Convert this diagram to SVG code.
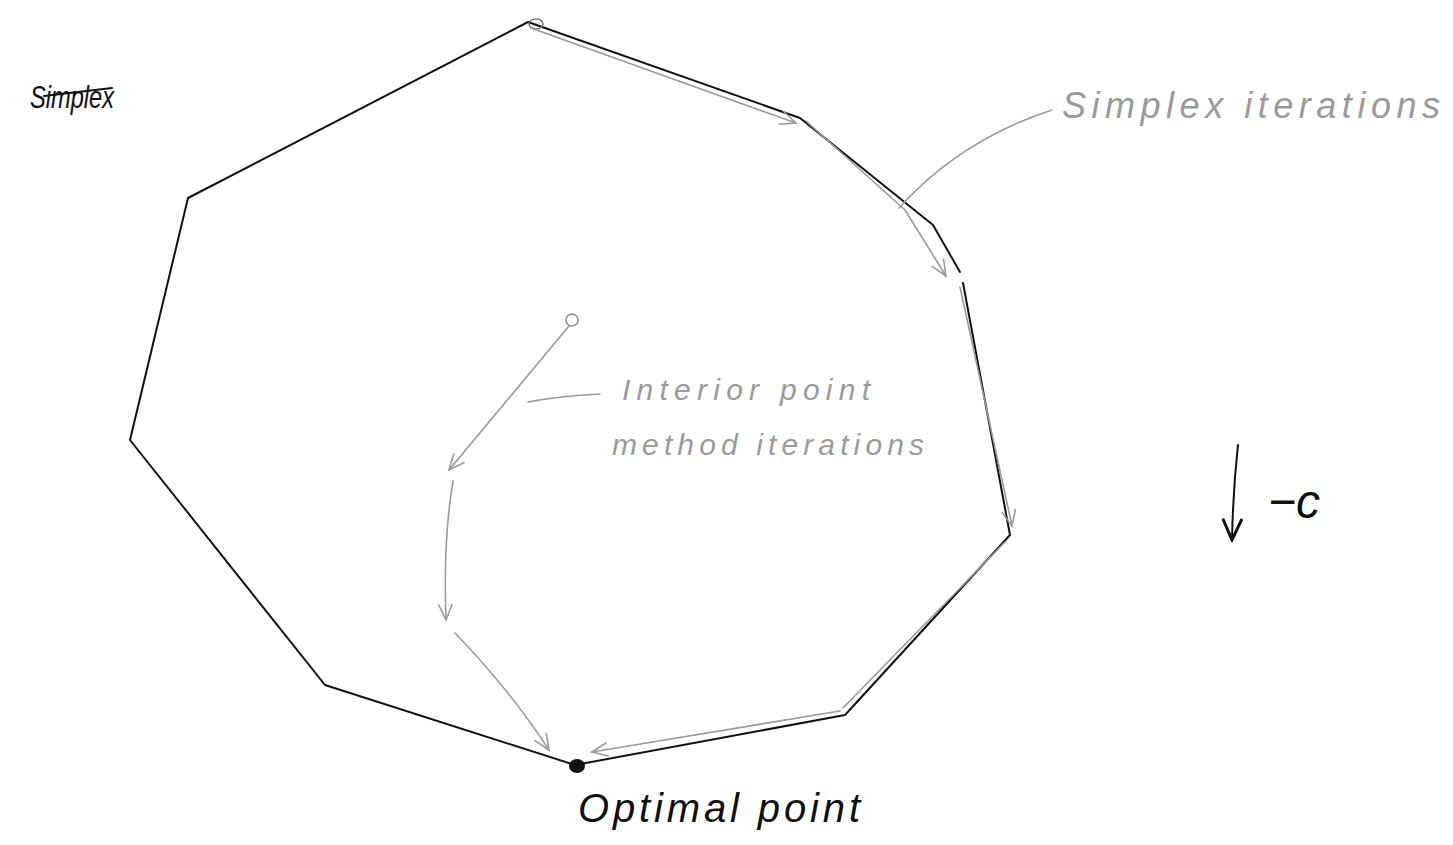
<svg xmlns="http://www.w3.org/2000/svg" width="1453" height="845" viewBox="0 0 1453 845">
<style>
.ink{fill:none;stroke:#111;stroke-width:2;stroke-linecap:round;stroke-linejoin:round}
.pen{fill:none;stroke:#9a9a9a;stroke-width:1.6;stroke-linecap:round;stroke-linejoin:round}
.lbl{font-family:"Liberation Sans","DejaVu Sans",sans-serif;font-style:italic}
.gray{fill:#9a9a9a}
.dark{fill:#111}
</style>
<defs>
<marker id="ga" viewBox="0 0 20 20" refX="18" refY="10" markerWidth="20" markerHeight="20" markerUnits="userSpaceOnUse" orient="auto">
<path d="M2 3 L18 10 L2 17" fill="none" stroke="#9a9a9a" stroke-width="1.6"/>
</marker>
<marker id="ba" viewBox="0 0 24 24" refX="22" refY="12" markerWidth="24" markerHeight="24" markerUnits="userSpaceOnUse" orient="auto">
<path d="M2 3 L22 12 L2 21" fill="none" stroke="#111" stroke-width="3" stroke-linecap="round"/>
</marker>
</defs>
<rect width="1453" height="845" fill="#fff"/>

<g id="polytope">
<path class="ink" d="M963 283 L1010 535 L845 715 L575 765 L325 685 L130 440 L188 198 L528 22 L800 118 L933 225 L960 272"/>
</g>

<g id="top-vertex">
<ellipse cx="536" cy="24" rx="7" ry="5" fill="none" stroke="#777" stroke-width="1.5"/>
</g>

<g id="optimal-point">
<ellipse cx="577" cy="766" rx="8" ry="7" fill="#111"/>
<text class="lbl dark" x="578" y="822" font-size="40" textLength="282" lengthAdjust="spacing">Optimal point</text>
</g>

<g id="interior-start">
<circle cx="572" cy="320" r="6" fill="none" stroke="#888" stroke-width="1.5"/>
</g>

<g id="label-simplex-crossed">
<text class="lbl dark" x="30" y="108" font-size="32" textLength="84" lengthAdjust="spacingAndGlyphs">Simplex</text>
<line class="ink" x1="44" y1="96" x2="112" y2="88" stroke-width="3"/>
</g>

<g id="label-simplex-iterations">
<text class="lbl gray" x="1062" y="118" font-size="36" textLength="378" lengthAdjust="spacing">Simplex iterations</text>
</g>

<g id="label-interior">
<text class="lbl gray" x="622" y="400" font-size="30" textLength="248" lengthAdjust="spacing">Interior point</text>
<text class="lbl gray" x="612" y="455" font-size="30" textLength="312" lengthAdjust="spacing">method iterations</text>
</g>

<g id="objective">
<path class="ink" d="M1238 445 Q1233 490 1232 540" stroke-width="3" marker-end="url(#ba)"/>
<text class="lbl dark" x="1268" y="518" font-size="48">−c</text>
</g>

<g id="connectors">
<path class="pen" d="M531 28 L796 123" marker-end="url(#ga)"/>
<path class="pen" d="M806 121 L905 210 L946 276" marker-end="url(#ga)"/>
<path class="pen" d="M960 287 L1012 526" marker-end="url(#ga)"/>
<path class="pen" d="M1005 542 L843 708"/>
<path class="pen" d="M840 711 L592 752" marker-end="url(#ga)"/>
<path class="pen" d="M899 208 Q960 140 1052 110"/>
<path class="pen" d="M569 326 L449 470" marker-end="url(#ga)"/>
<path class="pen" d="M453 481 Q443 540 446 620" marker-end="url(#ga)"/>
<path class="pen" d="M455 633 Q510 690 549 750" marker-end="url(#ga)"/>
<path class="pen" d="M528 402 Q560 396 600 394"/>
</g>
</svg>
